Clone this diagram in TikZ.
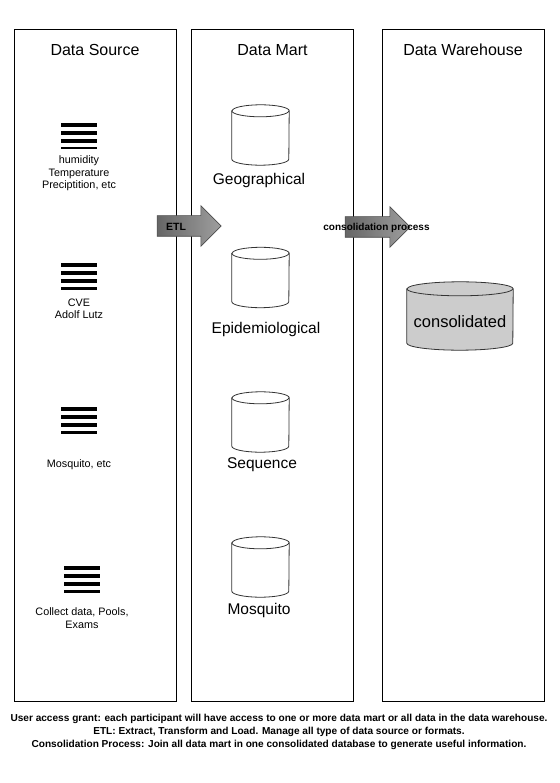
\documentclass[tikz,border=0pt]{standalone}
\usepackage{fontspec}
\setmainfont{Liberation Sans}
\usetikzlibrary{shapes.arrows}

\begin{document}
\begin{tikzpicture}[
    x=1pt, y=1pt,
    % Estilo para las columnas
    columna/.style={
        draw=black,
        line width=1pt,
        minimum width=162pt,
        minimum height=671pt,
        inner sep=0pt
    },
    % Titulo de cada columna
    titulo/.style={
        font=\fontsize{16}{18}\selectfont
    },
    % Icono de lista (cuatro barras)
    lista/.style={
        minimum width=36pt,
        minimum height=28pt,
        inner sep=0pt,
        path picture={
            \foreach \k in {0,...,3}
                \draw[line width=3.6pt]
                    ([yshift=-4pt-8*\k pt]path picture bounding box.north west) --
                    ([yshift=-4pt-8*\k pt]path picture bounding box.north east);
        }
    },
    % Texto bajo los iconos
    fuente/.style={
        align=center,
        font=\fontsize{10.8}{12.5}\selectfont
    },
    % Caja de cada cilindro (se dibuja despues)
    cilindro/.style={
        minimum width=57pt,
        minimum height=60pt,
        inner sep=0pt
    },
    contorno/.style={
        draw=black!80,
        line width=0.8pt
    },
    etiqueta/.style={
        font=\fontsize{15.5}{18}\selectfont
    },
    % Flechas grises
    flecha/.style={
        single arrow,
        draw=black!70,
        line width=0.6pt,
        left color=black!60,
        right color=black!38,
        inner xsep=0pt,
        inner ysep=10pt,
        single arrow head extend=10pt
    }
]

    % --- COLUMNAS ---
    \node[columna] (src) at (95,-365.5)  {};
    \node[columna] (mart) at (272.5,-365.5) {};
    \node[columna] (dw) at (463,-365.5)  {};

    \node[titulo] (tsrc)  at (95,-50)  {Data Source};
    \node[titulo] (tmart) at (272.5,-50) {Data Mart};
    \node[titulo] (tdw)   at (463,-50)  {Data Warehouse};

    % --- FUENTES DE DATOS ---
    \node[lista] (l1) at (79,-135) {};
    \node[fuente, below=3pt] (f1) at (l1.south) {humidity\\Temperature\\Preciptition, etc};

    \node[lista] (l2) at (79,-275) {};
    \node[fuente, below=6pt] (f2) at (l2.south) {CVE\\Adolf Lutz};

    \node[lista] (l3) at (79,-419) {};
    \node[fuente, below=23pt] (f3) at (l3.south) {Mosquito, etc};

    \node[lista] (l4) at (82,-578) {};
    \node[fuente, below=12pt] (f4) at (l4.south) {Collect data, Pools,\\Exams};

    % --- DATA MARTS ---
    \node[cilindro] (geo) at (260.5,-135) {};
    \node[etiqueta] (tgeo) at (259,-180) {Geographical};

    \node[cilindro] (epi) at (260.5,-277.5) {};
    \node[etiqueta] (tepi) at (266,-329) {Epidemiological};

    \node[cilindro] (seq) at (260.5,-422) {};
    \node[etiqueta] (tseq) at (262,-465) {Sequence};

    \node[cilindro] (mos) at (260.5,-567) {};
    \node[etiqueta] (tmos) at (259,-610) {Mosquito};

    % --- DATA WAREHOUSE ---
    \node[cilindro, minimum width=106pt, minimum height=68pt] (cons) at (460,-316) {};

    % --- CILINDROS (cuerpo y tapa) ---
    \foreach \c/\rx/\ry/\col in {geo/28.5/6/white, epi/28.5/6/white, seq/28.5/6/white,
                                 mos/28.5/6/white, cons/53/7/black!20} {
        \draw[contorno, fill=\col]
            ([yshift=-\ry pt]\c.north west) -- ([yshift=\ry pt]\c.south west)
            arc[start angle=180, end angle=360, x radius=\rx pt, y radius=\ry pt]
            -- ([yshift=-\ry pt]\c.north east)
            arc[start angle=0, end angle=180, x radius=\rx pt, y radius=\ry pt] -- cycle;
        \draw[contorno] ([yshift=-\ry pt]\c.north west)
            arc[start angle=180, end angle=360, x radius=\rx pt, y radius=\ry pt];
    }
    \node[font=\fontsize{16.5}{18}\selectfont] (tcons) at (460,-322) {consolidated};

    % --- FLECHAS ---
    \node[flecha, minimum height=64pt] (etl) at (184,-226) {};
    \node[font=\bfseries\fontsize{10.5}{12}\selectfont] (tetl) at (176,-227) {ETL};

    \node[flecha, minimum height=65pt] (proc) at (372.5,-227) {};
    \node[font=\bfseries\fontsize{10}{12}\selectfont] (tproc) at (376.5,-228) {consolidation process};

    % --- NOTAS ---
    \node[align=center, font=\bfseries\fontsize{10.1}{13}\selectfont] (nota) at (279,-732)
        {User access grant: each participant will have access to one or more data mart or all data in the data warehouse.\\
         ETL: Extract, Transform and Load. Manage all type of data source or formats.\\
         Consolidation Process: Join all data mart in one consolidated database to generate useful information.};

    \useasboundingbox (0,0) rectangle (559,-783);
\end{tikzpicture}
\end{document}
